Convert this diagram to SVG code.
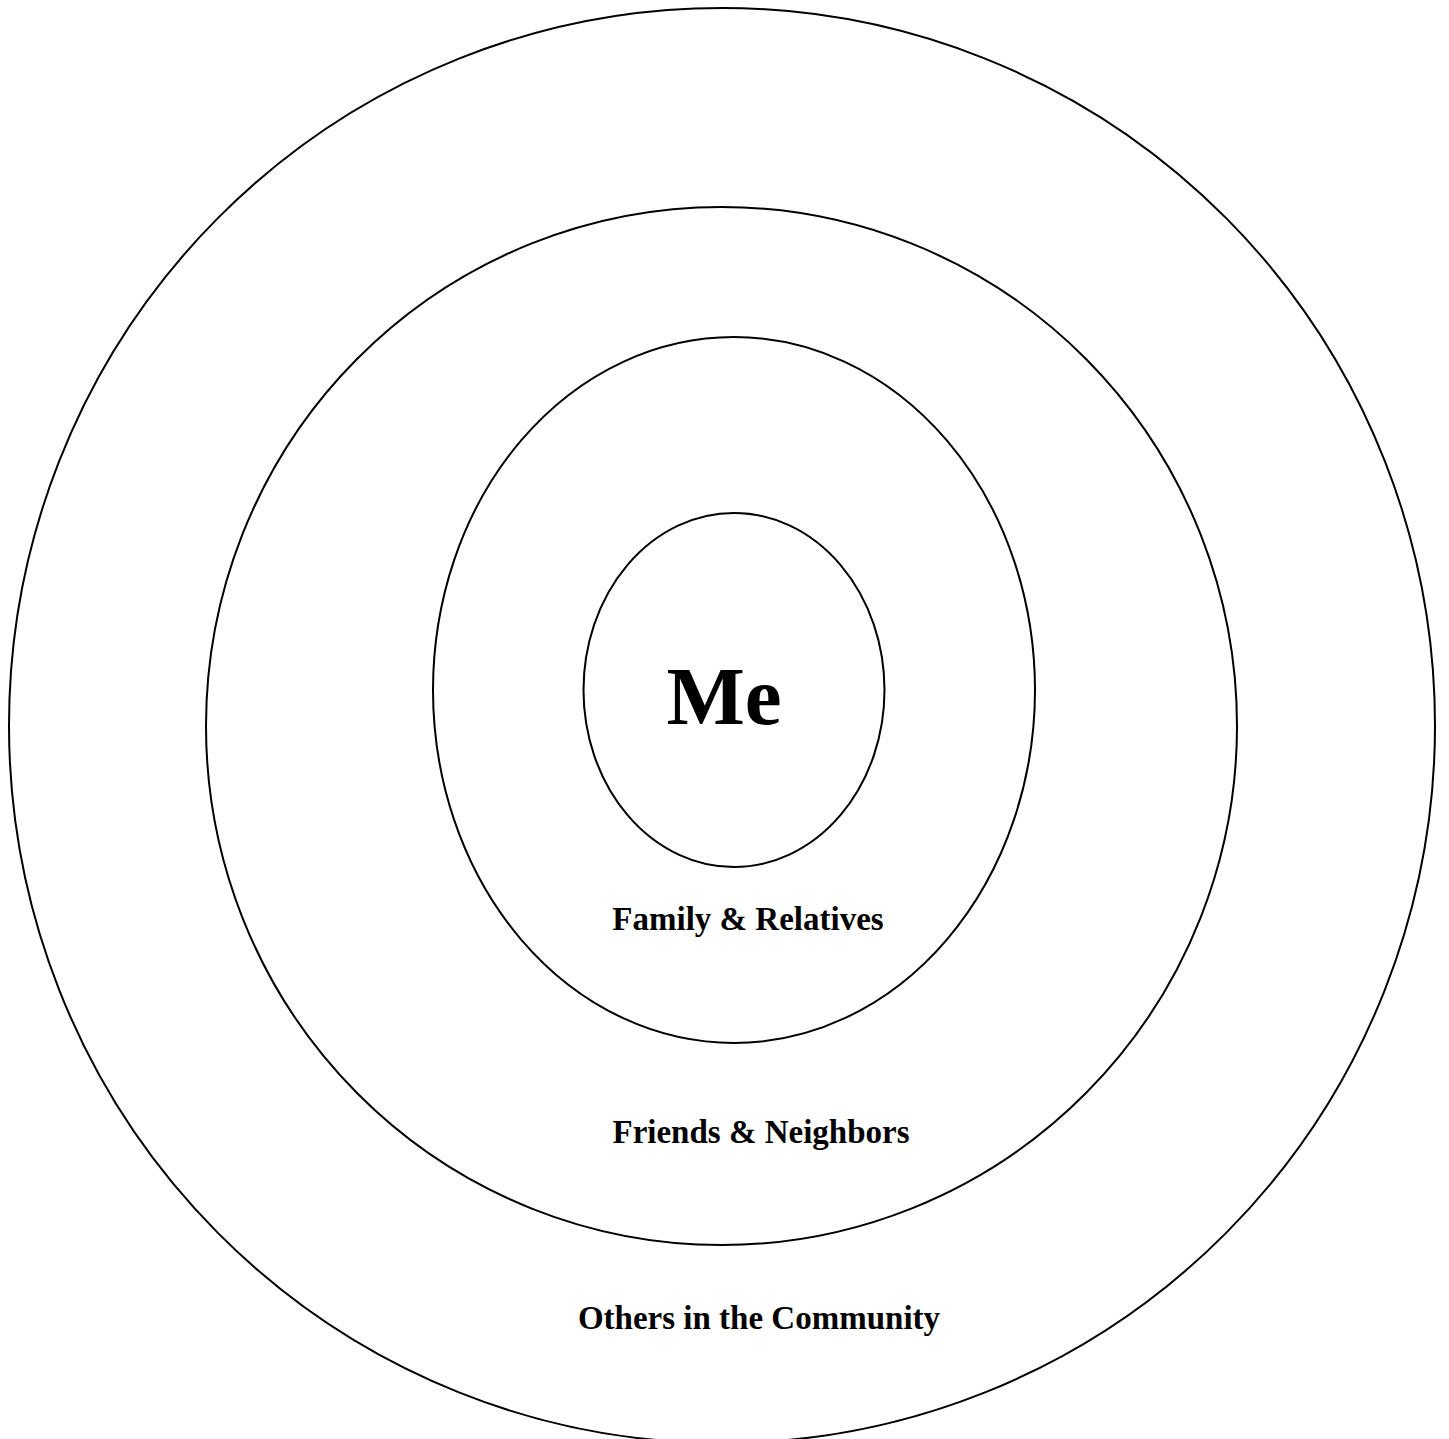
<svg xmlns="http://www.w3.org/2000/svg" width="1449" height="1439" viewBox="0 0 1449 1439">
<style>
.ring{fill:none;stroke:#000;stroke-width:2}
.lbl{font-family:"Liberation Serif","Times New Roman",serif;font-weight:bold;fill:#000;text-anchor:middle}
</style>
<rect width="1449" height="1439" fill="#fff"/>
<g id="community">
<ellipse class="ring" cx="722" cy="725.5" rx="713" ry="717.5"/>
<text class="lbl" x="759" y="1329" font-size="33">Others in the Community</text>
</g>
<g id="friends">
<ellipse class="ring" cx="721.5" cy="726" rx="515.5" ry="519"/>
<text class="lbl" x="761" y="1143" font-size="33">Friends &amp; Neighbors</text>
</g>
<g id="family">
<ellipse class="ring" cx="734" cy="690" rx="301" ry="353"/>
<text class="lbl" x="748" y="930" font-size="33">Family &amp; Relatives</text>
</g>
<g id="me">
<ellipse class="ring" cx="734" cy="690" rx="150.5" ry="177"/>
<text class="lbl" x="724" y="724" font-size="83">Me</text>
</g>
<g id="connectors"/>
</svg>
